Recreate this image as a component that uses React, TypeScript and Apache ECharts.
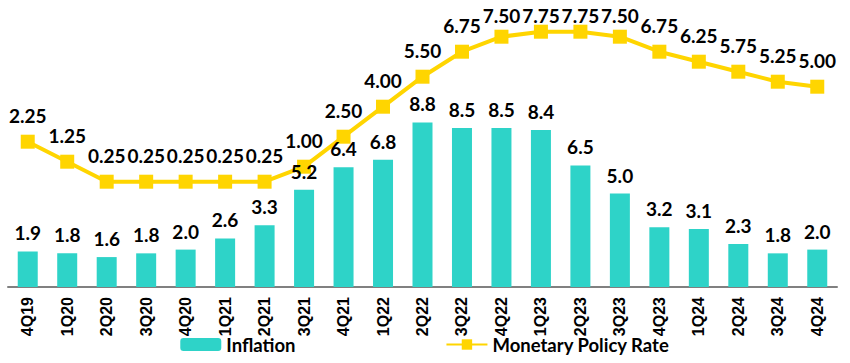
import React, { useEffect, useRef } from "react";
import * as echarts from "echarts";

const categories = ["4Q19", "1Q20", "2Q20", "3Q20", "4Q20", "1Q21", "2Q21", "3Q21", "4Q21", "1Q22", "2Q22", "3Q22", "4Q22", "1Q23", "2Q23", "3Q23", "4Q23", "1Q24", "2Q24", "3Q24", "4Q24"];
const inflation = [1.9, 1.8, 1.6, 1.8, 2.0, 2.6, 3.3, 5.2, 6.4, 6.8, 8.8, 8.5, 8.5, 8.4, 6.5, 5.0, 3.2, 3.1, 2.3, 1.8, 2.0];
const policyRate = [2.25, 1.25, 0.25, 0.25, 0.25, 0.25, 0.25, 1.0, 2.5, 4.0, 5.5, 6.75, 7.5, 7.75, 7.75, 7.5, 6.75, 6.25, 5.75, 5.25, 5.0];

const BAR_COLOR = "#2ED3C8";
const LINE_COLOR = "#FFD500";
const LABEL_FONT = "Lato";

export default function App() {
  const ref = useRef<HTMLDivElement>(null);
  useEffect(() => {
    if (!ref.current) return;
    const chart = echarts.init(ref.current, undefined, { renderer: "svg" });
    chart.setOption({
      animation: false,
      grid: { left: 8, right: 13, top: 20, bottom: 76, containLabel: false },
      legend: {
        bottom: 4,
        left: "center",
        itemWidth: 41,
        itemHeight: 13,
        itemGap: 150,
        textStyle: { fontFamily: LABEL_FONT, fontWeight: "bold", fontSize: 18.5, color: "#000" },
        data: ["Inflation", "Monetary Policy Rate"],
      },
      xAxis: {
        type: "category",
        data: categories,
        axisLine: { lineStyle: { color: "#808080", width: 2 } },
        axisTick: { show: false },
        axisLabel: {
          rotate: 90,
          margin: 10,
          interval: 0,
          fontFamily: "Liberation Sans",
          fontWeight: "bold",
          fontSize: 16,
          color: "#000",
        },
      },
      yAxis: [
        { type: "value", min: 0, max: 14.28, show: false, splitLine: { show: false } },
        { type: "value", min: -5.015, max: 8.335, show: false, splitLine: { show: false } },
      ],
      series: [
        {
          name: "Inflation",
          type: "bar",
          yAxisIndex: 0,
          barWidth: 20,
          z: 3,
          itemStyle: { color: BAR_COLOR },
          data: inflation,
          label: {
            show: true,
            position: "top",
            distance: 9,
            fontFamily: LABEL_FONT,
            fontWeight: "bold",
            fontSize: 19,
            color: "#000",
            formatter: (p: any) => Number(p.value).toFixed(1),
          },
        },
        {
          name: "Monetary Policy Rate",
          type: "line",
          yAxisIndex: 1,
          z: 2,
          symbol: "rect",
          symbolSize: 14,
          lineStyle: { color: LINE_COLOR, width: 4 },
          itemStyle: { color: LINE_COLOR },
          data: policyRate.map((v) => ({
            value: v,
            label: { distance: Math.min(10, 155 - 20 * v) },
          })),
          label: {
            show: true,
            position: "top",
            fontFamily: LABEL_FONT,
            fontWeight: "bold",
            fontSize: 19,
            color: "#000",
            formatter: (p: any) => Number(p.value).toFixed(2),
          },
        },
      ],
    });
    return () => chart.dispose();
  }, []);
  return <div ref={ref} style={{ position: "absolute", left: 0, top: 0, width: 850, height: 363 }} />;
}
